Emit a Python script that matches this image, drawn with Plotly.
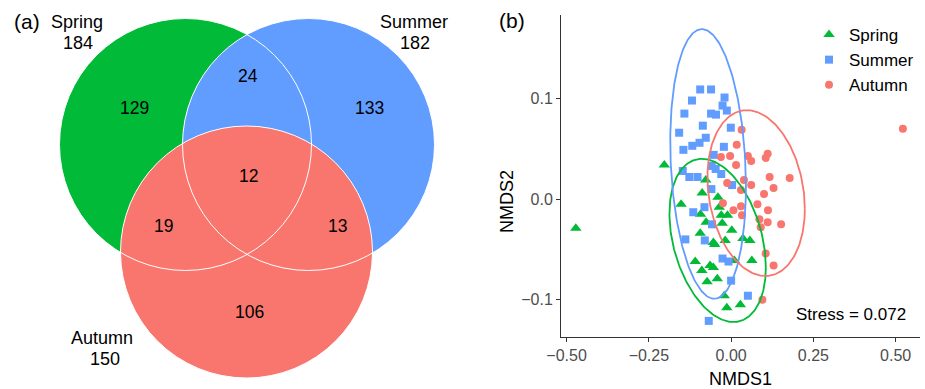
import numpy as np
import plotly.graph_objects as go

FONT = "Liberation Sans, Arial, sans-serif"

# ---------------- data ----------------
seasons = ["Spring", "Summer", "Autumn"]
season_colors = ["#00BA38", "#619CFF", "#F8766D"]
season_totals = [184, 182, 150]

# Venn region counts
only_spring = 129
only_summer = 133
only_autumn = 106
spring_summer = 24
spring_autumn = 19
summer_autumn = 13
all_three = 12

# NMDS site scores
spring_x = [-0.472, -0.203, -0.077, -0.088, -0.040, -0.152, -0.036, -0.093, -0.030, -0.011,
            -0.076, -0.027, 0.002, -0.094, -0.018, -0.054, -0.050, 0.036, 0.057, -0.109,
            -0.064, -0.054, -0.089, 0.010, 0.063, -0.042, -0.073, -0.021, -0.013, 0.028]
spring_y = [-0.029, 0.034, 0.019, 0.006, 0.002, -0.005, -0.008, -0.015, -0.016, -0.016,
            -0.023, -0.024, -0.031, -0.034, -0.041, -0.043, -0.045, -0.039, -0.041, -0.062,
            -0.066, -0.068, -0.071, -0.061, -0.061, -0.079, -0.082, -0.096, -0.108, -0.105]

summer_x = [-0.094, -0.061, -0.119, -0.020, -0.142, -0.026, -0.013, -0.061, -0.046, -0.086,
            -0.001, -0.158, -0.077, -0.096, -0.118, -0.145, -0.022, -0.053, -0.059, -0.047,
            -0.030, -0.147, -0.127, -0.102, 0.003, -0.060, -0.081, -0.115, -0.058, -0.139,
            -0.080, -0.026, -0.008, 0.000, 0.051, -0.068]
summer_y = [0.109, 0.109, 0.098, 0.101, 0.085, 0.093, 0.088, 0.085, 0.084, 0.073,
            0.071, 0.066, 0.061, 0.056, 0.053, 0.049, 0.052, 0.044, 0.033, 0.030,
            0.025, 0.028, 0.022, 0.022, 0.014, 0.010, -0.008, -0.013, -0.025, -0.040,
            -0.041, -0.059, -0.062, -0.081, -0.096, -0.121]

autumn_x = [0.522, 0.032, 0.017, -0.031, -0.003, 0.051, 0.061, 0.105, 0.111, 0.015,
            0.117, 0.178, -0.012, 0.039, 0.061, 0.129, 0.100, 0.030, -0.025, 0.030,
            0.080, 0.007, 0.033, 0.112, 0.086, 0.111, 0.152, 0.090, 0.105, 0.129, 0.095]
autumn_y = [0.070, 0.069, 0.054, 0.042, 0.043, 0.043, 0.038, 0.041, 0.045, 0.034,
            0.022, 0.021, 0.016, 0.019, 0.014, 0.011, 0.005, 0.009, -0.004, -0.007,
            -0.005, -0.011, -0.016, -0.011, -0.020, -0.023, -0.025, -0.028, -0.054, -0.066,
            -0.100]

# 95% ellipses: centre, half-extent in x and y, correlation
ellipse_cx = [-0.041, -0.070, 0.076]
ellipse_cy = [-0.041, 0.035, 0.006]
ellipse_sx = [0.1465, 0.115, 0.148]
ellipse_sy = [0.0811, 0.134, 0.0824]
ellipse_r = [-0.328, -0.164, -0.19]

stress = 0.072

x_ticks = [-0.5, -0.25, 0.0, 0.25, 0.5]
x_ticktext = ["\u22120.50", "\u22120.25", "0.00", "0.25", "0.50"]
y_ticks = [-0.1, 0.0, 0.1]
y_ticktext = ["\u22120.1", "0.0", "0.1"]

# ---------------- layout geometry ----------------
W, H = 925, 389
# Venn panel drawn in pixel-like units on a hidden axis
venn_centers = [(185.5, 144.5), (308.5, 144.5), (246.5, 252.0)]
venn_radius = 126.0
venn_name_pos = [(77, 21.5), (414, 21.5), (102, 338)]
venn_total_pos = [(77.5, 42.5), (414.5, 42.5), (104.5, 359)]
region_pos = {
    "only_spring": (134, 108), "spring_summer": (247.5, 76), "only_summer": (369.5, 108),
    "all_three": (248, 176), "spring_autumn": (163.5, 226), "summer_autumn": (337.5, 226),
    "only_autumn": (249.5, 312),
}
region_counts = {
    "only_spring": only_spring, "spring_summer": spring_summer, "only_summer": only_summer,
    "all_three": all_three, "spring_autumn": spring_autumn, "summer_autumn": summer_autumn,
    "only_autumn": only_autumn,
}

# NMDS panel plot area in pixels
px_left, px_right, px_top, px_bottom = 561, 920, 15, 337

fig = go.Figure()

shapes = []
# filled discs first, then white outlines on top
for (cx, cy), col in zip(venn_centers, season_colors):
    shapes.append(dict(type="circle", xref="x", yref="y",
                       x0=cx - venn_radius, x1=cx + venn_radius,
                       y0=cy - venn_radius, y1=cy + venn_radius,
                       fillcolor=col, line=dict(width=0), layer="below"))
for (cx, cy) in venn_centers:
    shapes.append(dict(type="circle", xref="x", yref="y",
                       x0=cx - venn_radius, x1=cx + venn_radius,
                       y0=cy - venn_radius, y1=cy + venn_radius,
                       fillcolor="rgba(0,0,0,0)", line=dict(width=1, color="white"),
                       layer="below"))

annotations = []
def txt(x, y, s, size=17, xref="x", yref="y", **kw):
    annotations.append(dict(x=x, y=y, xref=xref, yref=yref, text=s, showarrow=False,
                            font=dict(family=FONT, size=size, color="black"),
                            xanchor="center", yanchor="middle", **kw))

for name, total, (nx, ny), (tx, ty) in zip(seasons, season_totals, venn_name_pos, venn_total_pos):
    txt(nx, ny, name, size=18)
    txt(tx, ty, str(total), size=18)
for key, (rx, ry) in region_pos.items():
    txt(rx, ry, str(region_counts[key]), size=17.5)
txt(26.5, 21, "(a)", size=21)

# invisible trace to anchor the Venn axes
fig.add_trace(go.Scatter(x=[0, W * 0.508], y=[0, H], mode="markers",
                         marker=dict(opacity=0), hoverinfo="skip", showlegend=False,
                         xaxis="x", yaxis="y"))

# NMDS scatter
symbols = ["triangle-up", "square", "circle"]
sizes = [10, 8, 8]
xs = [spring_x, summer_x, autumn_x]
ys = [spring_y, summer_y, autumn_y]
for name, col, sym, sz, x, y in zip(seasons, season_colors, symbols, sizes, xs, ys):
    fig.add_trace(go.Scatter(x=x, y=y, mode="markers", name=name,
                             marker=dict(symbol=sym, color=col, size=sz, line=dict(width=0)),
                             xaxis="x2", yaxis="y2"))

t = np.linspace(0, 2 * np.pi, 240)
for i, col in enumerate(season_colors):
    r = ellipse_r[i]
    ex = ellipse_cx[i] + ellipse_sx[i] * np.cos(t)
    ey = ellipse_cy[i] + ellipse_sy[i] * (r * np.cos(t) + np.sqrt(1 - r * r) * np.sin(t))
    fig.add_trace(go.Scatter(x=ex, y=ey, mode="lines", line=dict(color=col, width=1.8),
                             hoverinfo="skip", showlegend=False, xaxis="x2", yaxis="y2"))

txt(850.5 / W, 1 - 314 / H, f"Stress = {stress}", size=17, xref="paper", yref="paper")
txt(740.5 / W, 1 - 379 / H, "NMDS1", size=18, xref="paper", yref="paper")
txt(507 / W, 1 - 201 / H, "NMDS2", size=18, xref="paper", yref="paper", textangle=-90)
txt(512 / W, 1 - 21 / H, "(b)", size=21, xref="paper", yref="paper")

axis_col = "#333333"
fig.update_layout(
    width=W, height=H, margin=dict(l=0, r=0, t=0, b=0),
    paper_bgcolor="white", plot_bgcolor="white",
    font=dict(family=FONT),
    shapes=shapes, annotations=annotations,
    xaxis=dict(domain=[0, 470 / W], range=[0, 470], visible=False, fixedrange=True),
    yaxis=dict(domain=[0, 1], range=[H, 0], visible=False, fixedrange=True),
    xaxis2=dict(domain=[px_left / W, px_right / W], range=[-0.517, 0.574], anchor="y2",
                showline=True, linecolor=axis_col, linewidth=1, mirror=False,
                ticks="outside", ticklen=4, tickcolor=axis_col, tickwidth=1,
                tickvals=x_ticks, ticktext=x_ticktext,
                tickfont=dict(family=FONT, size=16, color="#4D4D4D"),
                showgrid=False, zeroline=False, automargin=False),
    yaxis2=dict(domain=[1 - px_bottom / H, 1 - px_top / H], range=[-0.137, 0.183], anchor="x2",
                showline=True, linecolor=axis_col, linewidth=1, mirror=False,
                ticks="outside", ticklen=4, tickcolor=axis_col, tickwidth=1,
                tickvals=y_ticks, ticktext=y_ticktext,
                tickfont=dict(family=FONT, size=16, color="#4D4D4D"),
                showgrid=False, zeroline=False, automargin=False),
    legend=dict(x=809 / W, y=1 - 17 / H, xanchor="left", yanchor="top",
                font=dict(family=FONT, size=17, color="black"),
                bgcolor="rgba(0,0,0,0)", tracegroupgap=0, itemwidth=30),
)

fig.write_html("out.html")
